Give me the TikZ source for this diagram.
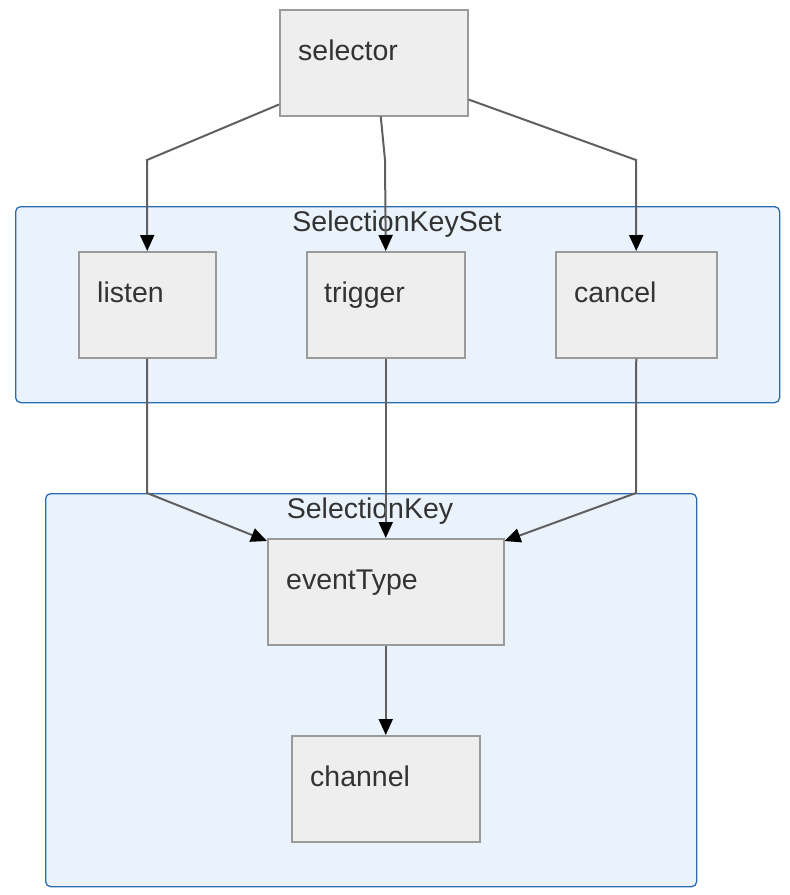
\documentclass[tikz,border=0pt]{standalone}
\usepackage{fontspec}
\setmainfont{Liberation Sans}
\usetikzlibrary{arrows.meta}
\definecolor{boxfill}{HTML}{EEEEEE}
\definecolor{boxline}{HTML}{9A9A9A}
\definecolor{clfill}{HTML}{EAF2FB}
\definecolor{clline}{HTML}{2B6CB0}
\definecolor{edgecol}{HTML}{606060}
\definecolor{txtcol}{HTML}{333333}
\begin{document}
\begin{tikzpicture}[x=1pt,y=-1pt,
  box/.style={draw=boxline, fill=boxfill, line width=1.5pt, anchor=north west, inner sep=0pt},
  cluster/.style={draw=clline, fill=clfill, line width=1.3pt, rounded corners=5pt, anchor=north west, inner sep=0pt},
  lbl/.style={anchor=base west, inner sep=0pt, text=txtcol, font=\fontsize{28.5}{32}\selectfont},
  ctitle/.style={anchor=base, inner sep=0pt, text=txtcol, font=\fontsize{28.5}{32}\selectfont},
  edge/.style={draw=edgecol, line width=2pt, -{Triangle[length=16pt,width=14pt,black]}}
]
\useasboundingbox (0,0) rectangle (790,895);
\fill[white] (0,0) rectangle (790,895);

% clusters
\node[cluster, minimum width=764pt, minimum height=196pt] (keyset) at (15,206) {};
\node[ctitle] (keysetT) at (397,231) {SelectionKeySet};
\node[cluster, minimum width=651pt, minimum height=393pt] (key) at (45,493) {};
\node[ctitle] (keyT) at (370,518) {SelectionKey};

% boxes
\node[box, minimum width=188pt, minimum height=106pt] (selector) at (279,9) {};
\node[lbl] (selectorT) at ([shift={(19,51)}]selector.north west) {selector};

\node[box, minimum width=137pt, minimum height=106pt] (listen) at (78,251) {};
\node[lbl] (listenT) at ([shift={(19,51)}]listen.north west) {listen};

\node[box, minimum width=158pt, minimum height=106pt] (trigger) at (306,251) {};
\node[lbl] (triggerT) at ([shift={(18,51)}]trigger.north west) {trigger};

\node[box, minimum width=161pt, minimum height=106pt] (cancel) at (555,251) {};
\node[lbl] (cancelT) at ([shift={(19,51)}]cancel.north west) {cancel};

\node[box, minimum width=236pt, minimum height=106pt] (eventType) at (267,538) {};
\node[lbl] (eventTypeT) at ([shift={(19,51)}]eventType.north west) {eventType};

\node[box, minimum width=188pt, minimum height=106pt] (channel) at (291,735) {};
\node[lbl] (channelT) at ([shift={(19,51)}]channel.north west) {channel};

% connectors
\coordinate (b1) at (147,160);
\coordinate (b2) at (385,160);
\coordinate (b3) at (636,160);
\coordinate (b4) at (147,493);
\coordinate (b5) at (636,493);

\draw[edge] ([shift={(0,-12)}]selector.south west) -- (b1) -- (listen.north);
\draw[edge] ([shift={(7,0)}]selector.south) -- (b2) -- (trigger.north);
\draw[edge] ([shift={(0,-17)}]selector.south east) -- (b3) -- (cancel.north);
\draw[edge] (listen.south) -- (b4) -- ([shift={(0,3)}]eventType.north west);
\draw[edge] (trigger.south) -- (eventType.north);
\draw[edge] (cancel.south) -- (b5) -- ([shift={(0,3)}]eventType.north east);
\draw[edge] (eventType.south) -- (channel.north);
\end{tikzpicture}
\end{document}
